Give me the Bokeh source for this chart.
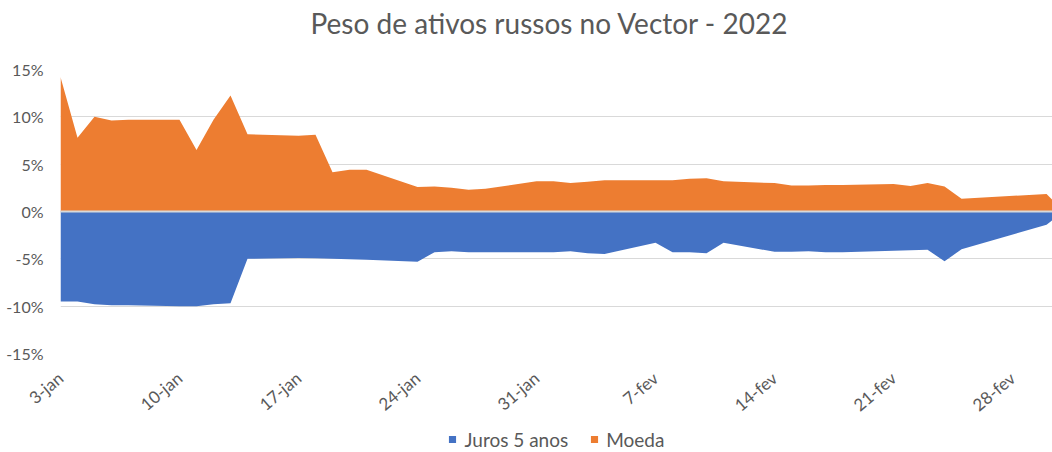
import pandas as pd
from bokeh.plotting import figure
from bokeh.layouts import column
from bokeh.models import (FixedTicker, Span, Legend, LegendItem, ColumnDataSource,
                          PrintfTickFormatter)
from bokeh.embed import file_html
from bokeh.resources import INLINE

# ---- data (percent) ----
dates = [
    "2022-01-03", "2022-01-04", "2022-01-05", "2022-01-06", "2022-01-07",
    "2022-01-10", "2022-01-11", "2022-01-12", "2022-01-13", "2022-01-14",
    "2022-01-17", "2022-01-18", "2022-01-19", "2022-01-20", "2022-01-21",
    "2022-01-24", "2022-01-25", "2022-01-26", "2022-01-27", "2022-01-28",
    "2022-01-31", "2022-02-01", "2022-02-02", "2022-02-03", "2022-02-04",
    "2022-02-07", "2022-02-08", "2022-02-09", "2022-02-10", "2022-02-11",
    "2022-02-14", "2022-02-15", "2022-02-16", "2022-02-17", "2022-02-18",
    "2022-02-21", "2022-02-22", "2022-02-23", "2022-02-24", "2022-02-25",
    "2022-03-02", "2022-03-03",
]
juros_5_anos = [
    -9.5, -9.5, -9.8, -9.9, -9.9,
    -10.0, -10.0, -9.8, -9.7, -5.0,
    -4.9, -4.95, -5.0, -5.05, -5.1,
    -5.3, -4.3, -4.2, -4.3, -4.3,
    -4.3, -4.3, -4.2, -4.4, -4.5,
    -3.3, -4.3, -4.3, -4.4, -3.3,
    -4.25, -4.25, -4.2, -4.3, -4.3,
    -4.15, -4.1, -4.05, -5.25, -4.0,
    -1.4, 0.0,
]
moeda = [
    14.2, 7.8, 10.0, 9.6, 9.7,
    9.7, 6.5, 9.7, 12.25, 8.15,
    8.0, 8.1, 4.15, 4.4, 4.4,
    2.6, 2.65, 2.5, 2.3, 2.4,
    3.2, 3.2, 3.0, 3.15, 3.3,
    3.3, 3.3, 3.45, 3.5, 3.2,
    3.0, 2.75, 2.75, 2.8, 2.8,
    2.9, 2.7, 3.0, 2.65, 1.35,
    1.85, 0.0,
]
tick_dates = ["2022-01-03", "2022-01-10", "2022-01-17", "2022-01-24", "2022-01-31",
              "2022-02-07", "2022-02-14", "2022-02-21", "2022-02-28"]
tick_labels = ["3-jan", "10-jan", "17-jan", "24-jan", "31-jan",
               "7-fev", "14-fev", "21-fev", "28-fev"]
y_ticks = [-15, -10, -5, 0, 5, 10, 15]
title_text = "Peso de ativos russos no Vector - 2022"
series_names = ["Juros 5 anos", "Moeda"]

FONT = "Lato"
TXT = "#595959"
BLUE = "#4472C4"
ORANGE = "#ED7D31"

d0 = pd.Timestamp(dates[0])
x = [(pd.Timestamp(d) - d0).days for d in dates]
tx = [(pd.Timestamp(d) - d0).days for d in tick_dates]

src = ColumnDataSource(dict(x=x, juros=juros_5_anos, moeda=moeda, zero=[0] * len(x)))

# ---------- title strip ----------
head = figure(frame_width=992, frame_height=1, output_backend="svg", toolbar_location=None,
              x_axis_location=None, y_axis_location=None,
              min_border_left=60, min_border_right=0, min_border_top=0, min_border_bottom=0)
head.title.text = title_text
head.title.align = "left"
head.title.offset = 250
head.title.vertical_align = "bottom"
head.title.standoff = 6
head.title.text_font = FONT
head.title.text_font_size = "28px"
head.title.text_font_style = "normal"
head.title.text_color = TXT
head.outline_line_color = None
head.grid.visible = False

# ---------- main chart ----------
fig = figure(frame_width=992, frame_height=284, output_backend="svg", toolbar_location=None,
             x_range=(0, 58.35), y_range=(-15, 15),
             min_border_left=60, min_border_right=0, min_border_top=26, min_border_bottom=74)
fig.title.text_font_size = "0px"
fig.title.standoff = 0

r_j = fig.varea(x="x", y1="zero", y2="juros", source=src, fill_color=BLUE)
r_m = fig.varea(x="x", y1="zero", y2="moeda", source=src, fill_color=ORANGE)

fig.add_layout(Span(location=0, dimension="width", line_color="#d9d9d9", line_width=2))

fig.outline_line_color = None
fig.xgrid.visible = False
fig.ygrid.ticker = FixedTicker(ticks=y_ticks)
fig.ygrid.grid_line_color = "#d9d9d9"
fig.ygrid.grid_line_width = 1

fig.yaxis.ticker = FixedTicker(ticks=y_ticks)
fig.yaxis.formatter = PrintfTickFormatter(format="%d%%")
fig.yaxis.axis_line_color = None
fig.yaxis.major_tick_line_color = None
fig.yaxis.minor_tick_line_color = None
fig.yaxis.major_label_standoff = 11
fig.yaxis.major_label_text_font = FONT
fig.yaxis.major_label_text_font_size = "16px"
fig.yaxis.major_label_text_color = TXT

xax = fig.below[0]
xax.ticker = FixedTicker(ticks=tx)
xax.major_label_overrides = {t: lab for t, lab in zip(tx, tick_labels)}
xax.major_label_orientation = 0.7
xax.axis_line_color = None
xax.major_tick_line_color = None
xax.minor_tick_line_color = None
xax.major_label_standoff = 16
xax.major_label_text_font = FONT
xax.major_label_text_font_size = "17px"
xax.major_label_text_color = TXT

# ---------- legend strip ----------
foot = figure(frame_width=992, frame_height=24, output_backend="svg", toolbar_location=None,
              x_range=fig.x_range, y_range=(-1, 1),
              x_axis_location=None, y_axis_location=None,
              min_border_left=60, min_border_right=0, min_border_top=0, min_border_bottom=0)
foot.title.text_font_size = "0px"
foot.title.standoff = 0
foot.outline_line_color = None
foot.grid.visible = False
# zero-height stand-in areas (invisible) that carry the legend swatch colours
lg_j = foot.varea(x="x", y1="zero", y2="zero", source=src, fill_color=BLUE)
lg_m = foot.varea(x="x", y1="zero", y2="zero", source=src, fill_color=ORANGE)

legend = Legend(items=[LegendItem(label=series_names[0], renderers=[lg_j]),
                       LegendItem(label=series_names[1], renderers=[lg_m])],
                orientation="horizontal", location="center",
                border_line_color=None, background_fill_alpha=0,
                padding=0, margin=0, spacing=21,
                glyph_width=9, glyph_height=9, label_standoff=8,
                label_text_font=FONT, label_text_font_size="19px",
                label_text_color=TXT)
foot.add_layout(legend, "center")

p = column(head, fig, foot, spacing=0)

open("out.html", "w").write(file_html(p, INLINE))
